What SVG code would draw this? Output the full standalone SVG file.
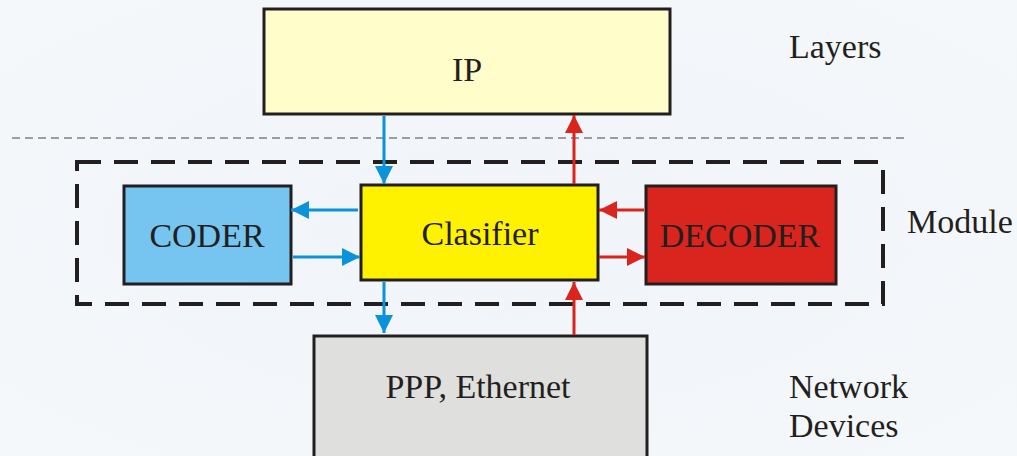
<svg xmlns="http://www.w3.org/2000/svg" width="1017" height="456" viewBox="0 0 1017 456">
<defs>
<radialGradient id="bg" cx="0.5" cy="0.5" r="0.7">
<stop offset="0" stop-color="#F1F4F8"/>
<stop offset="1" stop-color="#F5F8FB"/>
</radialGradient>
<marker id="ab" markerUnits="userSpaceOnUse" markerWidth="20" markerHeight="20" viewBox="0 0 20 20" refX="18" refY="10" orient="auto">
<path d="M0,1 L18,10 L0,19 Z" fill="#0A93DA"/>
</marker>
<marker id="ar" markerUnits="userSpaceOnUse" markerWidth="20" markerHeight="20" viewBox="0 0 20 20" refX="18" refY="10" orient="auto">
<path d="M0,1 L18,10 L0,19 Z" fill="#D9251D"/>
</marker>
</defs>
<style>
.box{stroke:#231F20;stroke-width:3}
.t{font-family:"Liberation Serif","Times New Roman",serif;font-size:34px;fill:#231F20}
.c{text-anchor:middle}
.b{stroke:#0A93DA;stroke-width:3;fill:none;marker-end:url(#ab)}
.r{stroke:#D9251D;stroke-width:3;fill:none;marker-end:url(#ar)}
</style>
<rect width="1017" height="456" fill="url(#bg)"/>
<line x1="12" y1="138" x2="906" y2="138" stroke="#444" stroke-width="1" stroke-dasharray="8,5"/>
<rect x="77" y="162" width="806" height="142" fill="none" stroke="#231F20" stroke-width="4" stroke-dasharray="24,13"/>
<g id="ip"><rect class="box" x="264" y="9" width="406" height="105" fill="#FFFDC9"/><text class="t c" x="467" y="81">IP</text></g>
<g id="coder"><rect class="box" x="124" y="186" width="167" height="98" fill="#76C5F0"/><text class="t c" x="207" y="247">CODER</text></g>
<g id="clasifier"><rect class="box" x="361" y="185" width="237" height="95" fill="#FFF200"/><text class="t c" x="480" y="245">Clasifier</text></g>
<g id="decoder"><rect class="box" x="646" y="186" width="190" height="98" fill="#D9251D"/><text class="t c" x="740" y="247">DECODER</text></g>
<g id="ppp"><rect class="box" x="314" y="336" width="333" height="130" fill="#DFDFDD"/><text class="t c" x="478" y="398">PPP, Ethernet</text></g>
<g id="labels">
<text class="t" x="789" y="58">Layers</text>
<text class="t" x="907" y="233">Module</text>
<text class="t" x="789" y="398">Network</text>
<text class="t" x="789" y="437">Devices</text>
</g>
<g id="connectors">
<line class="b" x1="384" y1="116" x2="384" y2="184"/>
<line class="r" x1="574" y1="184" x2="574" y2="115"/>
<line class="b" x1="358" y1="210" x2="291" y2="210"/>
<line class="b" x1="293" y1="257" x2="360" y2="257"/>
<line class="r" x1="644" y1="210" x2="599" y2="210"/>
<line class="r" x1="599" y1="257" x2="645" y2="257"/>
<line class="b" x1="384" y1="282" x2="384" y2="333"/>
<line class="r" x1="574" y1="335" x2="574" y2="282"/>
</g>
</svg>
